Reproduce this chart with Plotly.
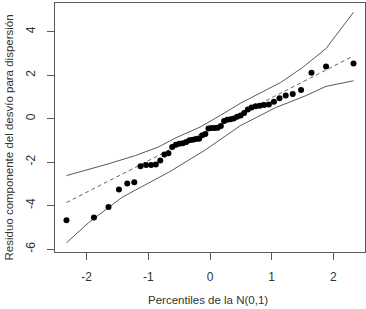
import numpy as np
import plotly.graph_objects as go

# Theoretical quantiles of N(0,1) for n = 50 (ppoints)
quantiles = [-2.326, -1.881, -1.645, -1.476, -1.341, -1.227, -1.126, -1.036, -0.954, -0.878,
             -0.806, -0.739, -0.674, -0.613, -0.553, -0.496, -0.440, -0.385, -0.332, -0.279,
             -0.228, -0.176, -0.126, -0.075, -0.025, 0.025, 0.075, 0.126, 0.176, 0.228,
             0.279, 0.332, 0.385, 0.440, 0.496, 0.553, 0.613, 0.674, 0.739, 0.806,
             0.878, 0.954, 1.036, 1.126, 1.227, 1.341, 1.476, 1.645, 1.881, 2.326]

residuals = [-4.68, -4.55, -4.07, -3.26, -2.99, -2.93, -2.19, -2.13, -2.13, -2.11,
             -1.93, -1.65, -1.59, -1.31, -1.20, -1.16, -1.13, -1.08, -1.00, -0.97,
             -0.94, -0.93, -0.77, -0.71, -0.46, -0.43, -0.43, -0.42, -0.34, -0.11,
             -0.05, -0.03, 0.00, 0.08, 0.14, 0.26, 0.42, 0.51, 0.57, 0.59,
             0.63, 0.65, 0.77, 0.93, 1.06, 1.13, 1.31, 2.11, 2.39, 2.53]

upper_x = [-2.326, -1.95, -1.645, -1.21, -0.84, -0.55, -0.16, 0.17, 0.49, 0.85, 1.14, 1.50, 1.88, 2.326]
upper_y = [-2.62, -2.33, -2.08, -1.70, -1.31, -0.88, -0.39, 0.15, 0.70, 1.23, 1.65, 2.35, 3.22, 4.89]

lower_x = [-2.326, -1.97, -1.645, -1.43, -1.21, -0.67, -0.08, 0.49, 1.06, 1.55, 1.88, 2.326]
lower_y = [-5.71, -4.79, -4.09, -3.63, -3.29, -2.47, -1.45, -0.33, 0.50, 1.05, 1.48, 1.74]

ref_intercept = -0.49
ref_slope = 1.449

x_ticks = [-2, -1, 0, 1, 2]
y_ticks = [-6, -4, -2, 0, 2, 4]

x_title = "Percentiles de la N(0,1)"
y_title = "Residuo componente del desvío para dispersión"

ref_x = [min(quantiles), max(quantiles)]
ref_y = [ref_intercept + ref_slope * v for v in ref_x]

def ext(lo, hi):
    d = (hi - lo) * 0.04
    return [lo - d, hi + d]

all_y = residuals + upper_y + lower_y + ref_y
xr = ext(min(quantiles), max(quantiles))
yr = ext(min(all_y), max(all_y))

line_col = "#5a5a5a"
font = dict(family="Liberation Sans, Arial, sans-serif", size=12, color="#333333")

fig = go.Figure()
fig.add_trace(go.Scatter(x=upper_x, y=upper_y, mode="lines",
                         line=dict(color=line_col, width=1), showlegend=False))
fig.add_trace(go.Scatter(x=lower_x, y=lower_y, mode="lines",
                         line=dict(color=line_col, width=1), showlegend=False))
fig.add_trace(go.Scatter(x=ref_x, y=ref_y, mode="lines",
                         line=dict(color="#666666", width=1, dash="4px,3px"), showlegend=False))
fig.add_trace(go.Scatter(x=quantiles, y=residuals, mode="markers",
                         marker=dict(color="black", size=6), showlegend=False))

fig.update_layout(
    width=366, height=309,
    margin=dict(l=55, r=1, t=3, b=57, autoexpand=False),
    paper_bgcolor="white", plot_bgcolor="white",
    font=font,
)
fig.update_xaxes(range=xr, tickvals=x_ticks, ticktext=[str(t) for t in x_ticks],
                 showgrid=False, zeroline=False, showline=True, mirror=True,
                 linecolor=line_col, linewidth=1, ticks="outside", ticklen=7,
                 tickcolor=line_col, ticklabelstandoff=7, automargin=False)
fig.update_yaxes(range=yr, tickvals=y_ticks, ticktext=[str(t) for t in y_ticks],
                 showgrid=False, zeroline=False, showline=True, mirror=True,
                 linecolor=line_col, linewidth=1, ticks="outside", ticklen=7,
                 tickcolor=line_col, tickangle=-90, ticklabelstandoff=7, automargin=False)

fig.add_annotation(text=x_title, xref="paper", yref="paper", x=0.495, y=-48/249,
                   xanchor="center", yanchor="middle", showarrow=False,
                   font=dict(size=11.5))
fig.add_annotation(text=y_title, xref="paper", yref="paper", x=-46.5/310, y=(252-138)/249,
                   xanchor="center", yanchor="middle", showarrow=False, textangle=-90,
                   font=dict(size=11.5))

fig.write_html("out.html", config={"displayModeBar": False},
               post_script="document.body.style.margin='0';")
